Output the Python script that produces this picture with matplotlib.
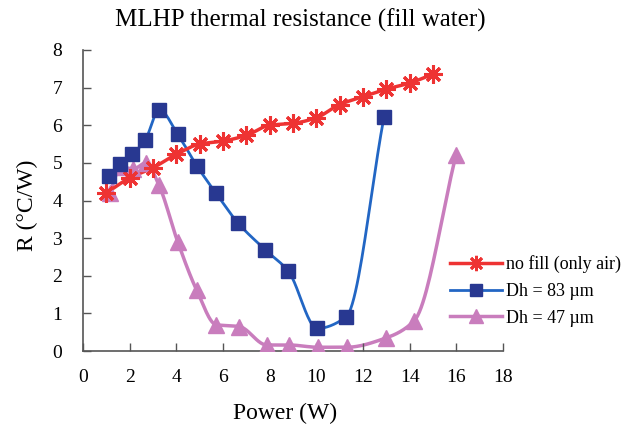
import numpy as np
import matplotlib
matplotlib.use("Agg")
import matplotlib.pyplot as plt
from matplotlib.lines import Line2D

plt.rcParams['font.family'] = ['Liberation Serif', 'DejaVu Serif']

# power (W) and thermal resistance R (degC/W)
power_air = [1, 2, 3, 4, 5, 6, 7, 8, 9, 10, 11, 12, 13, 14, 15]
r_air = [4.2, 4.6, 4.87, 5.23, 5.5, 5.58, 5.73, 6.0, 6.05, 6.2, 6.55, 6.76, 6.96, 7.12, 7.36]

power_83 = [1.13, 1.59, 2.11, 2.66, 3.27, 4.06, 4.87, 5.69, 6.66, 7.81, 8.8, 10.04, 11.27, 12.9]
r_83 = [4.65, 4.96, 5.23, 5.6, 6.41, 5.76, 4.93, 4.2, 3.39, 2.69, 2.12, 0.6, 0.9, 6.22]

power_47 = [1.16, 1.61, 2.16, 2.7, 3.26, 4.06, 4.87, 5.7, 6.7, 7.87, 8.83, 10.06, 11.3, 13.0, 14.19, 15.99]
r_47 = [4.2, 4.89, 4.84, 5.0, 4.4, 2.9, 1.62, 0.7, 0.65, 0.16, 0.16, 0.1, 0.1, 0.35, 0.8, 5.22]


def smooth(x, y, n=25):
    # monotone cubic hermite curve through the points (no overshoot)
    x = np.asarray(x, float)
    y = np.asarray(y, float)
    h = np.diff(x)
    d = np.diff(y) / h
    m = np.zeros_like(y)
    m[0], m[-1] = d[0], d[-1]
    for i in range(1, len(x) - 1):
        if d[i - 1] * d[i] > 0:
            w1 = 2 * h[i] + h[i - 1]
            w2 = h[i] + 2 * h[i - 1]
            m[i] = (w1 + w2) / (w1 / d[i - 1] + w2 / d[i])
    t = np.linspace(0, 1, n)
    xs, ys = [], []
    for i in range(len(x) - 1):
        h00 = 2 * t ** 3 - 3 * t ** 2 + 1
        h10 = t ** 3 - 2 * t ** 2 + t
        h01 = -2 * t ** 3 + 3 * t ** 2
        h11 = t ** 3 - t ** 2
        xs.append(x[i] + t * h[i])
        ys.append(h00 * y[i] + h10 * h[i] * m[i] + h01 * y[i + 1] + h11 * h[i] * m[i + 1])
    return np.concatenate(xs), np.concatenate(ys)


red = '#EE3333'
blue = '#2266C4'
navy = '#283891'
pink = '#C97DBD'

fig = plt.figure(figsize=(6.29, 4.29), dpi=100)
ax = fig.add_axes([83 / 629, 1 - 351 / 429, 420 / 629, 301 / 429])

sx, sy = smooth(power_air, r_air)
ax.plot(sx, sy, color=red, lw=2.5, zorder=3)
ax.plot(power_air, r_air, ls='none', marker=(8, 2, 0), ms=13, mec=red, mew=2.2, zorder=4)

sx, sy = smooth(power_83, r_83)
ax.plot(sx, sy, color=blue, lw=2, zorder=2)
ax.plot(power_83, r_83, ls='none', marker='s', ms=10, mfc=navy, mec=navy, zorder=4)

sx, sy = smooth(power_47, r_47)
ax.plot(sx, sy, color=pink, lw=2.5, zorder=1)
ax.plot(power_47, r_47, ls='none', marker='^', ms=12, mfc=pink, mec=pink, zorder=3)

ax.set_xlim(0, 18)
ax.set_ylim(0, 8)
ax.set_xticks(range(0, 19, 2))
ax.set_yticks(range(0, 9))
ax.tick_params(direction='in', length=6, width=1, color='#555555', labelsize=14)
ax.tick_params(axis='x', pad=13)
ax.tick_params(axis='y', pad=15)
for s in ['top', 'right']:
    ax.spines[s].set_visible(False)
for s in ['left', 'bottom']:
    ax.spines[s].set_color('#555555')
    ax.spines[s].set_linewidth(1.2)

fig.text(300 / 629, 1 - 20 / 429, 'MLHP thermal resistance (fill water)', ha='center', va='center', fontsize=18)
fig.text(285 / 629, 1 - 413 / 429, 'Power (W)', ha='center', va='center', fontsize=17)
fig.text(27 / 629, 1 - 205 / 429, 'R (°C/W)', ha='center', va='center', rotation=90, fontsize=17)

handles = [
    Line2D([], [], color=red, lw=2.5, marker=(8, 2, 0), ms=11, mec=red, mew=2),
    Line2D([], [], color=blue, lw=2, marker='s', ms=8, mfc=navy, mec=navy),
    Line2D([], [], color=pink, lw=2.5, marker='^', ms=10, mfc=pink, mec=pink),
]
labels = ['no fill (only air)', 'Dh = 83 µm', 'Dh = 47 µm']
fig.legend(handles, labels, loc='upper left', bbox_to_anchor=(450 / 629, 1 - 255 / 429),
           frameon=False, fontsize=13, handlelength=2.9, handletextpad=0.2,
           labelspacing=0.55, borderaxespad=0, borderpad=0)

fig.savefig('out.png', dpi=100)
